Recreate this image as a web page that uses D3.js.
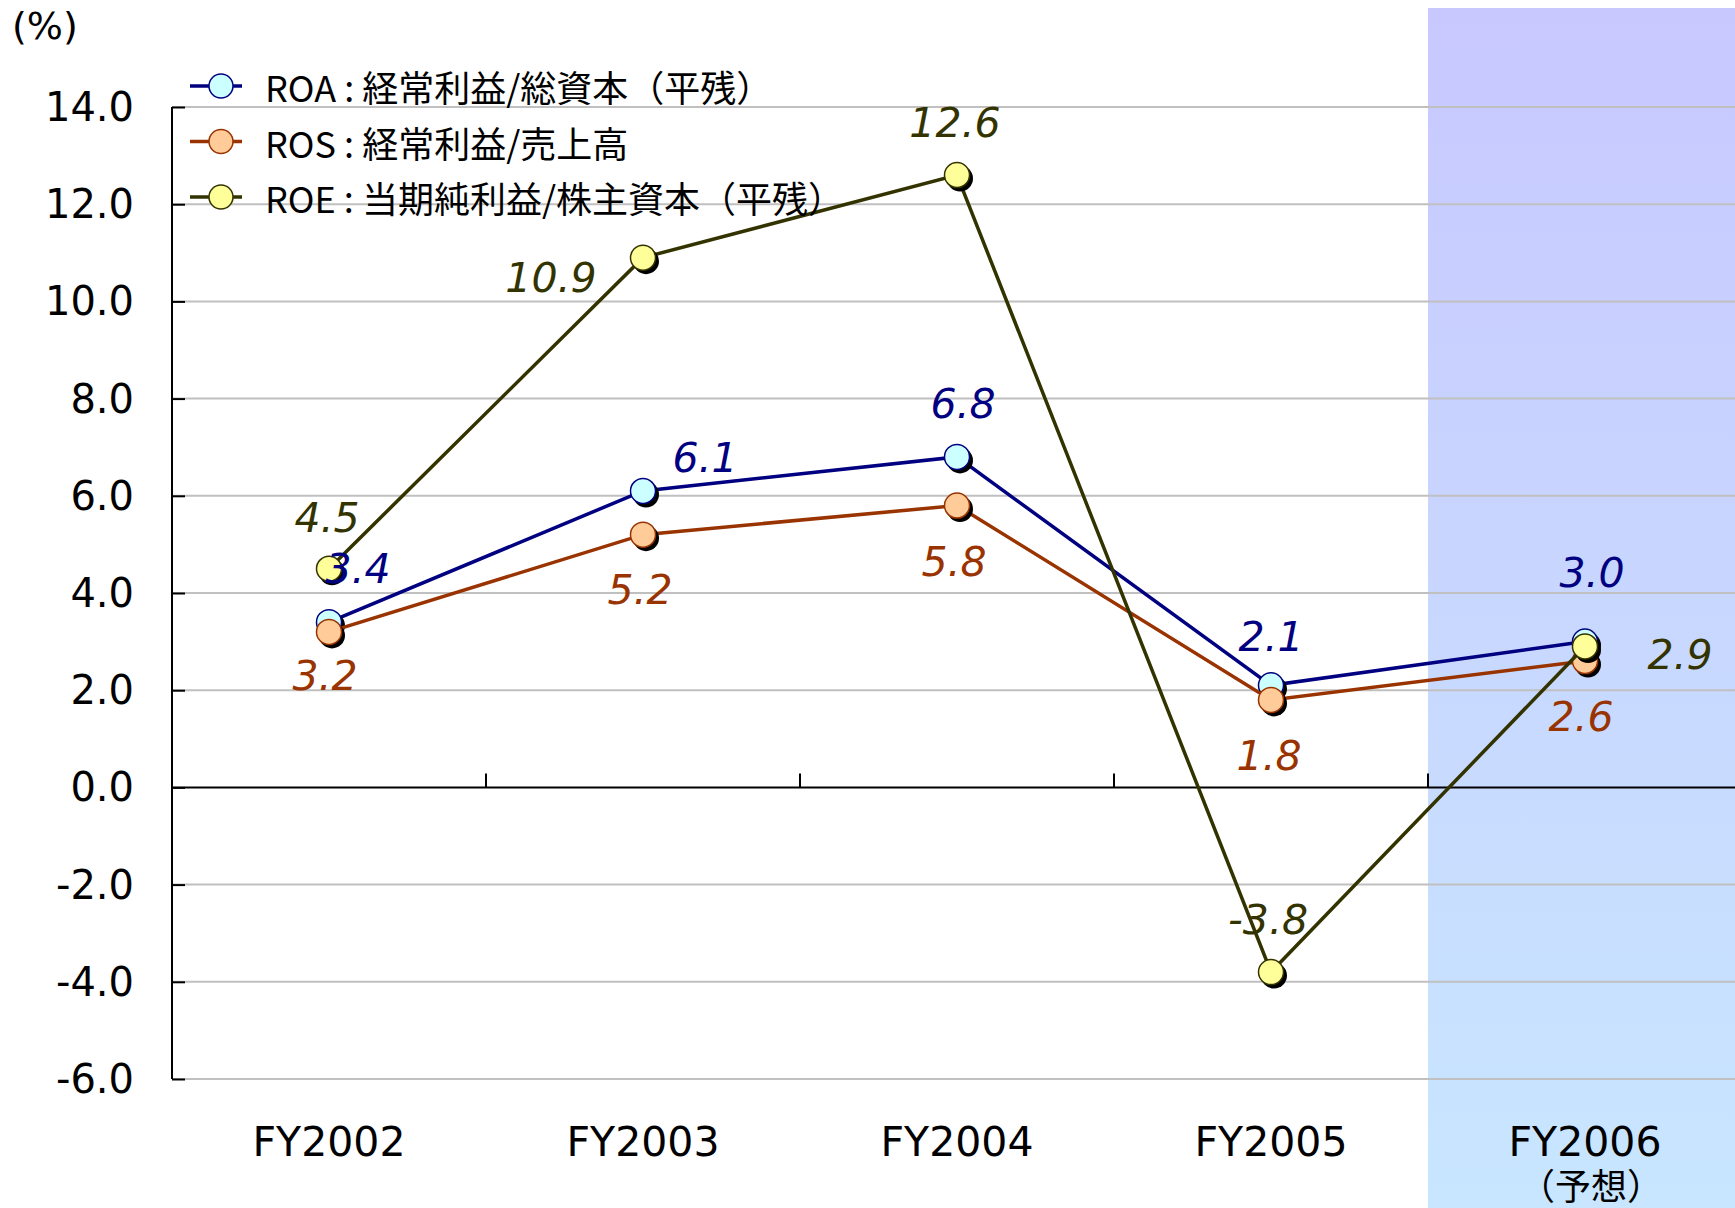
<!DOCTYPE html>
<html>
<head>
<meta charset="utf-8">
<script src="https://cdn.jsdelivr.net/npm/d3@7"></script>
<style>
  body { margin: 0; background: #fff; }
  svg { display: block; }
  .tick-label { font-family: "DejaVu Sans", Verdana, sans-serif; font-size: 40px; fill: #000; }
  .cat-label { font-family: "DejaVu Sans", Verdana, sans-serif; font-size: 41px; fill: #000; }
  .legend-text { font-family: "Noto Sans CJK JP", sans-serif; font-size: 36px; fill: #000; }
  .val-label { font-family: "DejaVu Sans", Verdana, sans-serif; font-size: 41px; font-style: italic; }
</style>
</head>
<body>
<svg id="chart" width="1735" height="1208"></svg>
<script>
  // data
  const categories = ['FY2002', 'FY2003', 'FY2004', 'FY2005', 'FY2006'];
  const categorySub = ['', '', '', '', '（予想）'];
  const roa = [3.4, 6.1, 6.8, 2.1, 3.0];
  const ros = [3.2, 5.2, 5.8, 1.8, 2.6];
  const roe = [4.5, 10.9, 12.6, -3.8, 2.9];
  const yTicks = [-6, -4, -2, 0, 2, 4, 6, 8, 10, 12, 14];
  const seriesNames = ['ROA:経常利益/総資本（平残）', 'ROS:経常利益/売上高', 'ROE:当期純利益/株主資本（平残）'];

  // styles and label nudges (Excel-placed labels)
  const series = [
    {name: seriesNames[0], values: roa, line: '#000080', fill: '#CCFFFF',
     offs: [[29, -53], [62, -33], [6, -53], [0, -48], [7, -69]]},
    {name: seriesNames[1], values: ros, line: '#993300', fill: '#FFCC99',
     offs: [[-4, 44], [-3, 55], [-3, 56], [-2, 56], [-4, 56]]},
    {name: seriesNames[2], values: roe, line: '#333300', fill: '#FFFF99',
     offs: [[-2, -51], [-92, 20], [-2, -52], [-3, -52], [95, 9]]},
  ];

  const fmt = v => d3.format('.1f')(v).replace('−', '-');

  const W = 1735, H = 1208;
  const svg = d3.select('#chart');

  const x = d3.scaleBand().domain(categories).range([172, 1742]);
  const y = d3.scaleLinear().domain([-6, 14]).range([1079, 107]);
  const cx = d => x(d) + x.bandwidth() / 2;

  // forecast shading
  const defs = svg.append('defs');
  const grad = defs.append('linearGradient').attr('id', 'fc').attr('x1', '0%').attr('y1', '0%').attr('x2', '0%').attr('y2', '100%');
  grad.append('stop').attr('offset', '0%').attr('stop-color', '#C8C8FF');
  grad.append('stop').attr('offset', '100%').attr('stop-color', '#C8E6FF');
  svg.append('rect')
    .attr('x', x('FY2006')).attr('y', 8)
    .attr('width', W - x('FY2006')).attr('height', H - 8)
    .attr('fill', 'url(#fc)');

  // gridlines
  svg.append('g').selectAll('line').data(yTicks.filter(t => t !== 0)).join('line')
    .attr('x1', 172).attr('x2', W)
    .attr('y1', d => y(d)).attr('y2', d => y(d))
    .attr('stroke', '#C0C0C0').attr('stroke-width', 2);

  // y axis
  const yAxis = d3.axisRight(y).tickValues(yTicks).tickSize(13).tickFormat(() => '');
  const ya = svg.append('g').attr('transform', 'translate(172,0)').call(yAxis);
  ya.select('.domain').attr('stroke', '#000').attr('stroke-width', 2).attr('d', `M0,${y(14)}V${y(-6)}`);
  ya.selectAll('.tick line').attr('stroke', '#000').attr('stroke-width', 2);

  svg.append('g').selectAll('text').data(yTicks).join('text')
    .attr('class', 'tick-label')
    .attr('x', 134).attr('y', d => y(d))
    .attr('text-anchor', 'end').attr('dominant-baseline', 'central')
    .text(fmt);

  // zero line and category ticks
  svg.append('line').attr('x1', 172).attr('x2', W).attr('y1', y(0)).attr('y2', y(0))
    .attr('stroke', '#000').attr('stroke-width', 2);
  svg.append('g').selectAll('line').data(categories.slice(1)).join('line')
    .attr('x1', d => x(d)).attr('x2', d => x(d))
    .attr('y1', y(0)).attr('y2', y(0) - 14)
    .attr('stroke', '#000').attr('stroke-width', 2);

  // category labels
  svg.append('g').selectAll('text').data(categories).join('text')
    .attr('class', 'cat-label').attr('text-anchor', 'middle')
    .attr('x', d => cx(d)).attr('y', 1156)
    .text(d => d);
  svg.append('g').selectAll('text').data(categories.filter((d, i) => categorySub[i])).join('text')
    .attr('class', 'cat-label').attr('text-anchor', 'middle')
    .style('font-family', '"Noto Sans CJK JP", sans-serif').style('font-size', '36px')
    .attr('x', d => cx(d) + 6).attr('y', 1200)
    .text(d => categorySub[categories.indexOf(d)]);

  // series
  const line = d3.line().x((d, i) => cx(categories[i])).y(d => y(d));
  series.forEach(s => {
    const g = svg.append('g');
    g.append('path').datum(s.values).attr('d', line)
      .attr('fill', 'none').attr('stroke', s.line).attr('stroke-width', 3.5);
    g.selectAll('circle.sh').data(s.values).join('circle').attr('class', 'sh')
      .attr('cx', (d, i) => cx(categories[i]) + 3).attr('cy', d => y(d) + 3.5).attr('r', 13)
      .attr('fill', '#000');
    g.selectAll('circle.mk').data(s.values).join('circle').attr('class', 'mk')
      .attr('cx', (d, i) => cx(categories[i])).attr('cy', d => y(d)).attr('r', 12.5)
      .attr('fill', s.fill).attr('stroke', s.line).attr('stroke-width', 1.5);
  });

  // value labels
  series.forEach(s => {
    svg.append('g').selectAll('text').data(s.values).join('text')
      .attr('class', 'val-label').attr('fill', s.line)
      .attr('text-anchor', 'middle').attr('dominant-baseline', 'central')
      .attr('x', (d, i) => cx(categories[i]) + s.offs[i][0])
      .attr('y', (d, i) => y(d) + s.offs[i][1])
      .text(fmt);
  });

  // legend
  const lg = svg.append('g').selectAll('g').data(series).join('g')
    .attr('transform', (d, i) => `translate(190,${86 + i * 55.5})`);
  lg.append('line').attr('x1', 0).attr('x2', 52).attr('stroke', d => d.line).attr('stroke-width', 3.5);
  lg.append('circle').attr('cx', 31).attr('r', 12)
    .attr('fill', d => d.fill).attr('stroke', d => d.line).attr('stroke-width', 1.5);
  lg.append('text').attr('class', 'legend-text').attr('x', 75).attr('dominant-baseline', 'central')
    .style('word-spacing', '0').attr('textLength', null)
    .text(d => d.name.replace(':', ' : '));

  // unit
  svg.append('text').attr('x', 12).attr('y', 26)
    .attr('dominant-baseline', 'central')
    .style('font-family', '"DejaVu Sans", sans-serif').style('font-size', '38px')
    .text('(%)');
</script>
</body>
</html>
